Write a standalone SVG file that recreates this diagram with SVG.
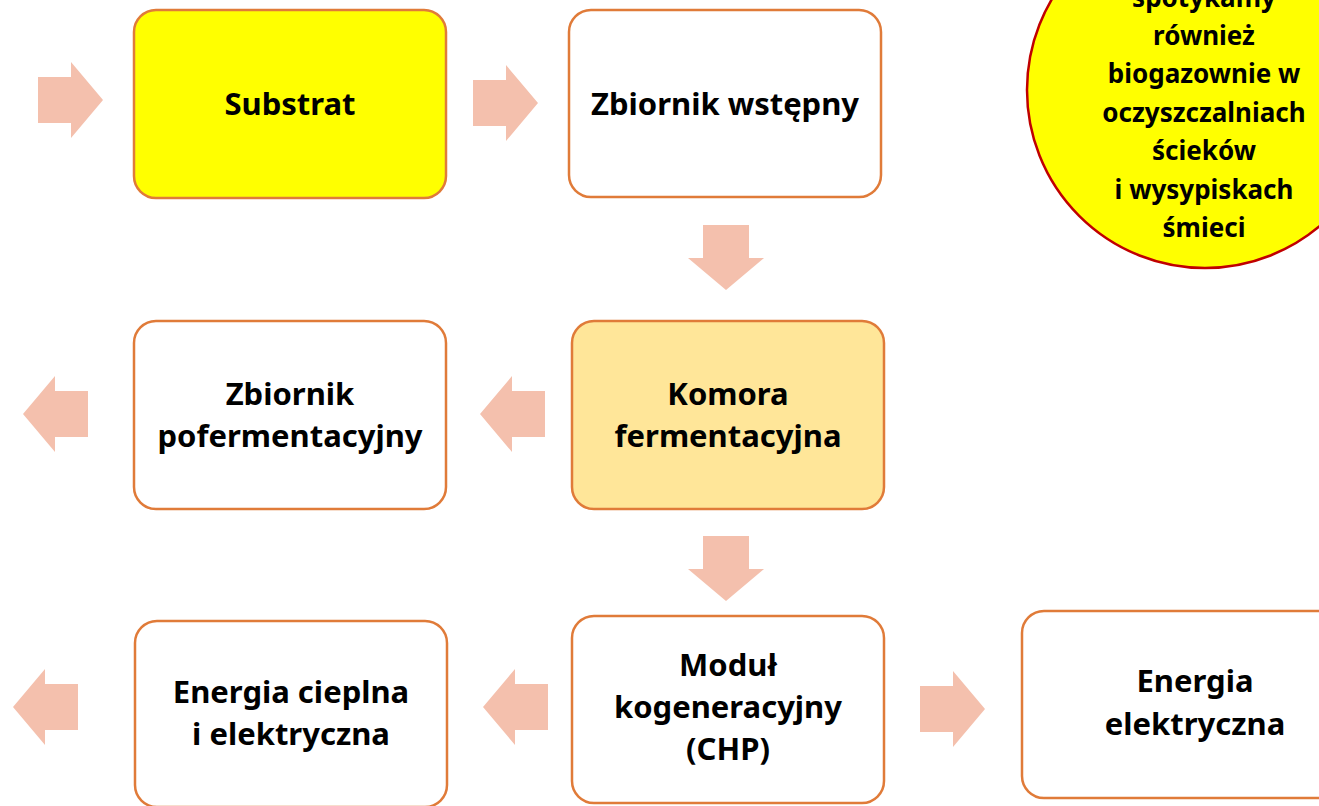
<svg xmlns="http://www.w3.org/2000/svg" width="1319" height="806" viewBox="0 0 1319 806">
  <style>
    .box { stroke: #E07B39; stroke-width: 2.5; }
    .white { fill: #FFFFFF; }
    .label { font-family: "Noto Sans", "Open Sans", "Liberation Sans", sans-serif; font-weight: bold; font-size: 31px; fill: #000000; text-anchor: middle; }
    .note { font-family: "Noto Sans", "Open Sans", "Liberation Sans", sans-serif; font-weight: bold; font-size: 26px; fill: #000000; text-anchor: middle; }
    .arrow { fill: #F4C0AD; }
  </style>
  <defs>
    <!-- block arrow pointing right, origin at body left / centre line -->
    <path id="arrowRight" d="M0,-23 H33 V-38 L65,0 L33,38 V23 H0 Z"/>
    <!-- block arrow pointing down, origin at body top / centre line -->
    <path id="arrowDown" d="M-23,0 H23 V33 H38 L0,65 L-38,33 H-23 Z"/>
  </defs>
  <rect width="1319" height="806" fill="#FFFFFF"/>

  <!-- flow arrows -->
  <g id="connectors" class="arrow">
    <use href="#arrowRight" x="38" y="100"/>
    <use href="#arrowRight" x="473" y="103"/>
    <use href="#arrowDown" x="726" y="225"/>
    <use href="#arrowRight" transform="translate(545,414) scale(-1,1)"/>
    <use href="#arrowRight" transform="translate(88,414) scale(-1,1)"/>
    <use href="#arrowDown" x="726" y="536"/>
    <use href="#arrowRight" transform="translate(548,707) scale(-1,1)"/>
    <use href="#arrowRight" transform="translate(78,707) scale(-1,1)"/>
    <use href="#arrowRight" x="920" y="709"/>
  </g>

  <g id="substrat">
    <rect class="box" x="134" y="10" width="312" height="188" rx="22" fill="#FFFF00"/>
    <text class="label" x="290" y="115">Substrat</text>
  </g>

  <g id="zbiornik-wstepny">
    <rect class="box white" x="569" y="10" width="312" height="187" rx="22"/>
    <text class="label" x="725" y="115">Zbiornik wstępny</text>
  </g>

  <g id="komora-fermentacyjna">
    <rect class="box" x="572" y="321" width="312" height="188" rx="22" fill="#FFE699"/>
    <text class="label" x="728" y="405">Komora</text>
    <text class="label" x="728" y="447">fermentacyjna</text>
  </g>

  <g id="zbiornik-pofermentacyjny">
    <rect class="box white" x="134" y="321" width="312" height="188" rx="22"/>
    <text class="label" x="290" y="405">Zbiornik</text>
    <text class="label" x="290" y="447">pofermentacyjny</text>
  </g>

  <g id="modul-kogeneracyjny">
    <rect class="box white" x="572" y="616" width="312" height="187" rx="22"/>
    <text class="label" x="728" y="676">Moduł</text>
    <text class="label" x="728" y="718">kogeneracyjny</text>
    <text class="label" x="728" y="760">(CHP)</text>
  </g>

  <g id="energia-cieplna">
    <rect class="box white" x="135" y="621" width="312" height="186" rx="22"/>
    <text class="label" x="291" y="703">Energia cieplna</text>
    <text class="label" x="291" y="745">i elektryczna</text>
  </g>

  <g id="energia-elektryczna">
    <rect class="box white" x="1022" y="611" width="320" height="187" rx="22"/>
    <text class="label" x="1195" y="692">Energia</text>
    <text class="label" x="1195" y="735">elektryczna</text>
  </g>

  <g id="note">
    <circle cx="1205" cy="90" r="178" fill="#FFFF00" stroke="#C00000" stroke-width="2.5"/>
    <text class="note" x="1204" y="7">spotykamy</text>
    <text class="note" x="1204" y="45">również</text>
    <text class="note" x="1204" y="83">biogazownie w</text>
    <text class="note" x="1204" y="122">oczyszczalniach</text>
    <text class="note" x="1204" y="160">ścieków</text>
    <text class="note" x="1204" y="199">i wysypiskach</text>
    <text class="note" x="1204" y="237">śmieci</text>
  </g>
</svg>
